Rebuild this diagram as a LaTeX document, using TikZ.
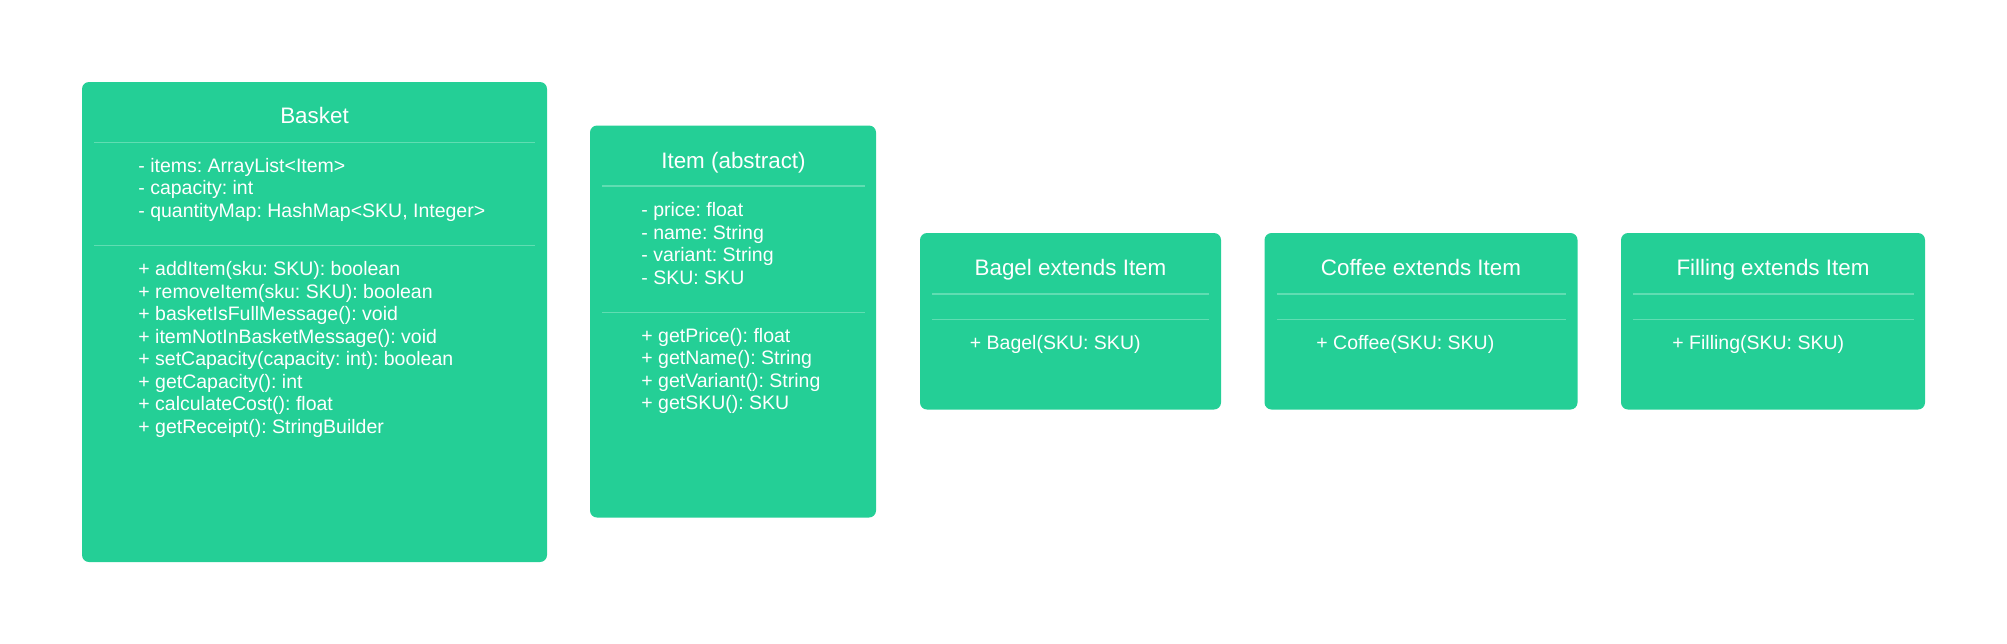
\documentclass[tikz,border=0pt]{standalone}
\usepackage{fontspec}
\setmainfont{Liberation Sans}
\usepackage{tikz}
\frenchspacing
\definecolor{umlgreen}{RGB}{36,207,150}
\definecolor{umlrule}{RGB}{96,221,178}
\tikzset{
  clsbox/.style={rectangle,fill=umlgreen,rounded corners=3.5pt,inner sep=0pt},
  clsname/.style={anchor=base,inner sep=0pt,text=white,font=\fontsize{11.2pt}{13pt}\selectfont},
  mem/.style={anchor=base west,inner sep=0pt,text=white,font=\fontsize{9.75pt}{12pt}\selectfont},
  sepline/.style={draw=umlrule,line width=0.6pt},
}

\begin{document}
\begin{tikzpicture}[x=0.5pt,y=-0.5pt]
\useasboundingbox (0,0) rectangle (2007,643);
% class boxes
\node[clsbox,minimum width=232.5pt,minimum height=240pt] (basket) at (314.5,322) {};
\node[clsbox,minimum width=143pt,minimum height=196pt] (item) at (733,321.5) {};
\node[clsbox,minimum width=150.5pt,minimum height=88.25pt] (bagel) at (1070.5,321.25) {};
\node[clsbox,minimum width=156.5pt,minimum height=88.25pt] (coffee) at (1421,321.25) {};
\node[clsbox,minimum width=152pt,minimum height=88.25pt] (filling) at (1773,321.25) {};
% compartment rules
\draw[sepline] (94,142.5) -- (535,142.5);
\draw[sepline] (94,245.5) -- (535,245.5);
\draw[sepline] (602,186) -- (865,186);
\draw[sepline] (602,312.5) -- (865,312.5);
\draw[sepline] (932,294) -- (1209,294);
\draw[sepline] (932,319.5) -- (1209,319.5);
\draw[sepline] (1277,294) -- (1566,294);
\draw[sepline] (1277,319.5) -- (1566,319.5);
\draw[sepline] (1633,294) -- (1914,294);
\draw[sepline] (1633,319.5) -- (1914,319.5);
% Basket
\node[clsname] (basket_t) at (314.5,123.5) {Basket};
\node[mem] (basket_a1) at (138,172) {- items: ArrayList<Item>};
\node[mem] (basket_a2) at (138,194.5) {- capacity: int};
\node[mem] (basket_a3) at (138,217) {- quantityMap: HashMap<SKU, Integer>};
\node[mem] (basket_m1) at (138,275.5) {+ addItem(sku: SKU): boolean};
\node[mem] (basket_m2) at (138,298) {+ removeItem(sku: SKU): boolean};
\node[mem] (basket_m3) at (138,320.5) {+ basketIsFullMessage(): void};
\node[mem] (basket_m4) at (138,343) {+ itemNotInBasketMessage(): void};
\node[mem] (basket_m5) at (138,365.5) {+ setCapacity(capacity: int): boolean};
\node[mem] (basket_m6) at (138,388) {+ getCapacity(): int};
\node[mem] (basket_m7) at (138,410.5) {+ calculateCost(): float};
\node[mem] (basket_m8) at (138,433) {+ getReceipt(): StringBuilder};
% Item
\node[clsname] (item_t) at (733.5,168) {Item (abstract)};
\node[mem] (item_a1) at (641,216.5) {- price: float};
\node[mem] (item_a2) at (641,239) {- name: String};
\node[mem] (item_a3) at (641,261.5) {- variant: String};
\node[mem] (item_a4) at (641,284) {- SKU: SKU};
\node[mem] (item_m1) at (641,342) {+ getPrice(): float};
\node[mem] (item_m2) at (641,364.5) {+ getName(): String};
\node[mem] (item_m3) at (641,387) {+ getVariant(): String};
\node[mem] (item_m4) at (641,409.5) {+ getSKU(): SKU};
% subclasses
\node[clsname] (bagel_t) at (1070.5,275) {Bagel extends Item};
\node[mem] (bagel_m1) at (969.5,349) {+ Bagel(SKU: SKU)};
\node[clsname] (coffee_t) at (1421,275) {Coffee extends Item};
\node[mem] (coffee_m1) at (1316,349) {+ Coffee(SKU: SKU)};
\node[clsname] (filling_t) at (1773,275) {Filling extends Item};
\node[mem] (filling_m1) at (1672,349) {+ Filling(SKU: SKU)};
\end{tikzpicture}
\end{document}
